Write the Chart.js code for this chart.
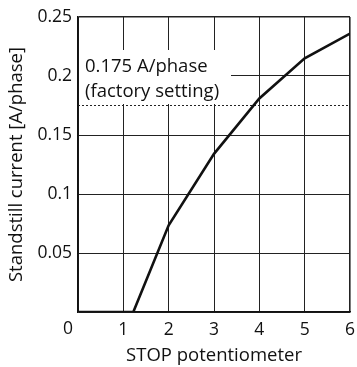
<!DOCTYPE html>
<html>
<head>
<meta charset="utf-8">
<script src="https://cdn.jsdelivr.net/npm/chart.js@4"></script>
<style>
  html, body { margin: 0; padding: 0; background: #fff; }
  #wrap { width: 357px; height: 367px; }
</style>
</head>
<body>
<div id="wrap"><canvas id="stopChart" width="357" height="367"></canvas></div>
<script>
// STOP potentiometer setting vs. standstill current
const potSetting = [0, 1, 1.22, 2, 3, 4, 5, 6];
const current = [0, 0, 0, 0.0735, 0.134, 0.181, 0.215, 0.236];
const factorySetting = 0.175;
const xTickLabels = ["", "1", "2", "3", "4", "5", "6"];
const yTickLabels = ["", "0.05", "0.1", "0.15", "0.2", "0.25"];
const noteLines = ["0.175 A/phase", "(factory setting)"];

const FONT = "'Open Sans', 'DejaVu Sans', sans-serif";

// white note box over the grid + the "0" origin label
const notePlugin = {
  id: "note",
  beforeDatasetsDraw(chart) {
    const { ctx, chartArea } = chart;
    const x = chart.scales.x;
    ctx.save();
    ctx.fillStyle = "#fff";
    ctx.fillRect(chartArea.left + 1, chartArea.top + 33, 152, 54);
    ctx.fillStyle = "#111";
    ctx.font = "18.5px " + FONT;
    ctx.textBaseline = "middle";
    ctx.textAlign = "left";
    ctx.fillText(noteLines[0], chartArea.left + 7, chartArea.top + 50);
    ctx.fillText(noteLines[1], chartArea.left + 7, chartArea.top + 75);
    ctx.textAlign = "center";
    ctx.font = "17.5px " + FONT;
    ctx.fillText("0", x.getPixelForValue(0) - 10, chartArea.bottom + 17);
    ctx.restore();
  }
};

const ctx = document.getElementById("stopChart").getContext("2d");
new Chart(ctx, {
  type: "scatter",
  data: {
    datasets: [
      {
        data: potSetting.map((v, i) => ({ x: v, y: current[i] })),
        showLine: true,
        borderColor: "#111",
        borderWidth: 2.6,
        pointRadius: 0,
        tension: 0
      },
      {
        data: [{ x: 0, y: factorySetting }, { x: 6, y: factorySetting }],
        showLine: true,
        borderColor: "#222",
        borderWidth: 1,
        borderDash: [2, 2],
        pointRadius: 0
      }
    ]
  },
  options: {
    responsive: false,
    animation: false,
    layout: { padding: { top: 17, right: 7, left: 2, bottom: 0 } },
    plugins: {
      legend: { display: false },
      tooltip: { enabled: false }
    },
    scales: {
      x: {
        type: "linear",
        min: 0,
        max: 6,
        afterFit: (s) => { s.height = 55; s.paddingRight = 0; s.paddingLeft = 0; },
        ticks: {
          stepSize: 1,
          padding: 8,
          color: "#111",
          font: { family: FONT, size: 17.5 },
          callback: (v) => xTickLabels[v]
        },
        grid: {
          color: "#222",
          lineWidth: (c) => (c.tick && c.tick.value === 6 ? 1.6 : 1),
          drawTicks: false
        },
        border: { color: "#111", width: 1.6 },
        title: {
          display: true,
          text: "STOP potentiometer",
          color: "#111",
          font: { family: FONT, size: 18.5 },
          padding: { top: 4, bottom: 0 }
        }
      },
      y: {
        min: 0,
        max: 0.25,
        afterFit: (s) => { s.width = 76; s.paddingTop = 0; },
        ticks: {
          stepSize: 0.05,
          padding: 6,
          color: "#111",
          font: { family: FONT, size: 17.5 },
          callback: (v, i) => yTickLabels[i]
        },
        grid: {
          color: "#222",
          lineWidth: (c) => (c.tick && Math.abs(c.tick.value - 0.25) < 1e-9 ? 1.6 : 1),
          drawTicks: false
        },
        border: { color: "#111", width: 1.6 },
        title: {
          display: true,
          text: "Standstill current [A/phase]",
          color: "#111",
          font: { family: FONT, size: 18.5 },
          padding: { bottom: 4 }
        }
      }
    }
  },
  plugins: [notePlugin]
});
</script>
</body>
</html>
